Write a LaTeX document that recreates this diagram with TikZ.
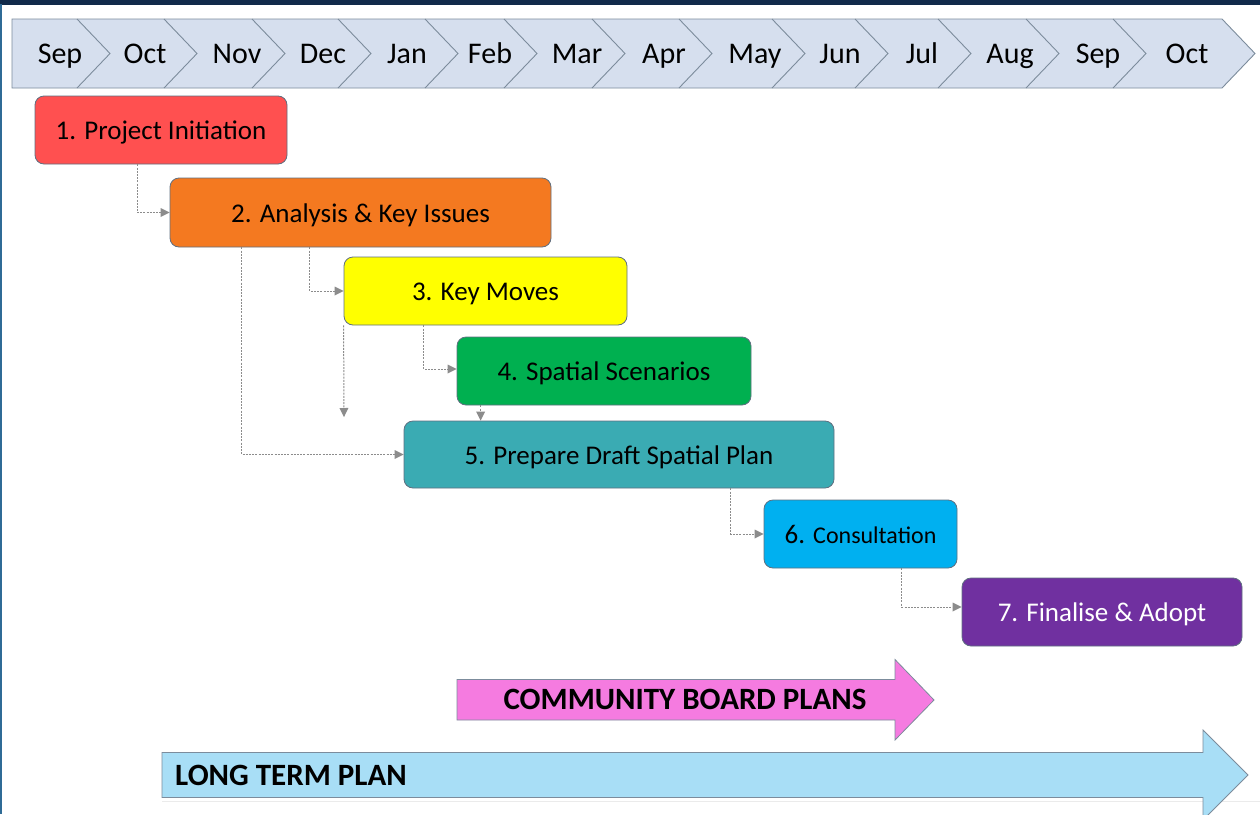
\documentclass[tikz,border=0pt]{standalone}
\usepackage{fontspec}
\setmainfont{Carlito}
\usetikzlibrary{arrows.meta}
\definecolor{navy}{HTML}{112A4A}
\definecolor{edgeblue}{HTML}{2F6B96}
\definecolor{bandfill}{HTML}{D6DFEE}
\definecolor{bandline}{HTML}{7C8C9C}
\definecolor{boxline}{HTML}{5F6F80}
\definecolor{cred}{HTML}{FF5050}
\definecolor{corange}{HTML}{F47920}
\definecolor{cyellow}{HTML}{FFFF00}
\definecolor{cgreen}{HTML}{00B050}
\definecolor{cteal}{HTML}{3AABB3}
\definecolor{csky}{HTML}{00B0F0}
\definecolor{cpurple}{HTML}{7030A0}
\definecolor{cpink}{HTML}{F57BE0}
\definecolor{clight}{HTML}{A8DEF6}
\definecolor{conngray}{HTML}{8C8C8C}
\tikzset{
  stagebox/.style={draw=boxline, line width=0.8pt, rounded corners=9pt, inner sep=0pt,
    text=black, font=\fontsize{27}{32}\selectfont, text height=23pt, text depth=4pt},
  conn/.style={draw=conngray, line width=1pt, dash pattern=on 2pt off 1.2pt,
    -{Triangle[length=9pt,width=9pt,fill=conngray,line width=0pt]}},
  monthlbl/.style={font=\fontsize{30}{34}\selectfont, text=black, inner sep=0pt, anchor=base},
  bigarrow/.style={draw=bandline, line width=0.8pt},
  arrowlbl/.style={font=\fontsize{31}{36}\selectfont\bfseries, text=black, inner sep=0pt}
}
\begin{document}
\begin{tikzpicture}[x=1pt,y=-1pt]
\useasboundingbox (0,0) rectangle (1260,814);
\fill[white] (0,0) rectangle (1260,814);
\begin{scope}
\clip (0,0) rectangle (1260,814);
% frame
\fill[navy] (0,0) rectangle (1260,4.5);
\draw[edgeblue, line width=1.6pt] (1,4) -- (1,814);
% month band
\draw[fill=bandfill, draw=bandline, line width=0.9pt]
  (12,19) -- (1222,19) -- (1255,53.5) -- (1222,88) -- (12,88) -- cycle;
\foreach \d in {77,164,252,338,425,504,592,679,772,855,938,1026,1113}
  \draw[bandline, line width=0.9pt] (\d,19) -- (\d+33,53.5) -- (\d,88);
\foreach \t/\x [count=\i] in {Sep/60,Oct/145,Nov/237,Dec/323,Jan/407,Feb/490,Mar/577,Apr/664,May/755,Jun/840,Jul/922,Aug/1010,Sep/1098,Oct/1187}
  \node[monthlbl] (m\i) at (\x,63) {\t};
% stage boxes
\node[stagebox, fill=cred, minimum width=252pt, minimum height=68pt] (b1) at (161,130) {1. Project Initiation};
\node[stagebox, fill=corange, minimum width=381pt, minimum height=69pt] (b2) at (360.5,212.5) {2. Analysis \& Key Issues};
\node[stagebox, fill=cyellow, minimum width=283pt, minimum height=68pt] (b3) at (485.5,291) {3. Key Moves};
\node[stagebox, fill=cgreen, minimum width=294pt, minimum height=68pt] (b4) at (604,371) {4. Spatial Scenarios};
\node[stagebox, fill=cteal, minimum width=430pt, minimum height=67pt] (b5) at (619,454.5) {5. Prepare Draft Spatial Plan};
\node[stagebox, fill=csky, minimum width=193pt, minimum height=68pt] (b6) at (860.5,534) {6. {\fontsize{24}{28}\selectfont Consultation}};
\node[stagebox, fill=cpurple, text=white, minimum width=280pt, minimum height=68pt] (b7) at (1102,612) {7. Finalise \& Adopt};
% connectors
\coordinate (c3) at (344,417);
\coordinate (s4) at ([xshift=24pt]b4.south west);
\draw[conn] ([xshift=-24pt]b1.south) |- (b2.west);
\draw[conn] ([xshift=140pt]b2.south west) |- (b3.west);
\draw[conn] ([xshift=80pt]b3.south west) |- ([yshift=2pt]b4.west);
\draw[conn] (b3.south west) -- (c3);
\draw[conn] (s4) -- (s4 |- b5.north);
\draw[conn] ([xshift=72pt]b2.south west) |- (b5.west);
\draw[conn] ([xshift=327pt]b5.south west) |- (b6.west);
\draw[conn] ([xshift=138pt]b6.south west) |- ([yshift=5pt]b7.west);
% faint line
\draw[black!8, line width=1pt] (162,801) -- (1260,801);
% big arrows
\draw[bigarrow, fill=cpink] (457,679.5) -- (895,679.5) -- (895,659.5) -- (934,700) -- (895,740) -- (895,720) -- (457,720) -- cycle;
\node[arrowlbl] (cbp) at (685,699) {COMMUNITY BOARD PLANS};
\draw[bigarrow, fill=clight] (162,752.5) -- (1203,752.5) -- (1203,730) -- (1248,775) -- (1203,820) -- (1203,797.5) -- (162,797.5) -- cycle;
\node[arrowlbl, anchor=west] (ltp) at (175,775) {LONG TERM PLAN};
\end{scope}
\end{tikzpicture}
\end{document}
